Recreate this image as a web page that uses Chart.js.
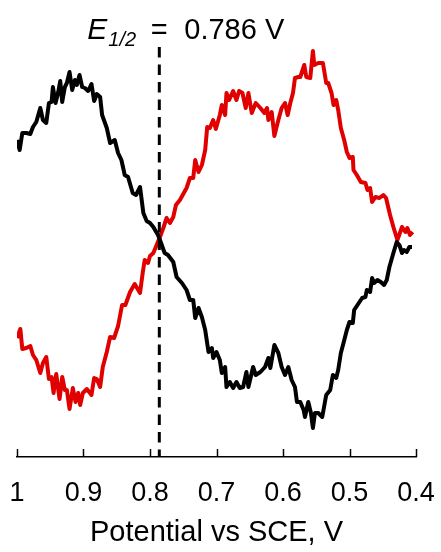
<!DOCTYPE html>
<html>
<head>
<meta charset="utf-8">
<script src="https://cdn.jsdelivr.net/npm/chart.js@4/dist/chart.umd.min.js"></script>
<style>
  body { margin: 0; background: #fff; }
</style>
</head>
<body>
<canvas id="cv" width="441" height="552"></canvas>
<script>
// potential (V vs SCE) and current (arbitrary units)
var blackV = [1.000, 0.996, 0.992, 0.986, 0.980, 0.976, 0.971, 0.965, 0.961, 0.956, 0.952, 0.948, 0.946, 0.942, 0.938, 0.935, 0.932, 0.928, 0.925, 0.921,
  0.917, 0.913, 0.910, 0.906, 0.902, 0.898, 0.893, 0.888, 0.884, 0.880, 0.875, 0.872, 0.865, 0.860, 0.853, 0.848, 0.843, 0.838, 0.833, 0.826,
  0.821, 0.815, 0.810, 0.805, 0.800, 0.795, 0.788, 0.785, 0.778, 0.773, 0.765, 0.760, 0.752, 0.745, 0.740, 0.735, 0.732, 0.727, 0.722, 0.717,
  0.712, 0.707, 0.705, 0.700, 0.695, 0.692, 0.687, 0.685, 0.680, 0.675, 0.670, 0.665, 0.660, 0.655, 0.652, 0.645, 0.641, 0.634, 0.627, 0.622,
  0.619, 0.613, 0.607, 0.602, 0.597, 0.592, 0.587, 0.582, 0.579, 0.574, 0.569, 0.567, 0.562, 0.558, 0.555, 0.552, 0.547, 0.541, 0.535, 0.529,
  0.525, 0.520, 0.517, 0.513, 0.509, 0.504, 0.500, 0.495, 0.493, 0.486, 0.481, 0.476, 0.474, 0.469, 0.466, 0.463, 0.458, 0.453, 0.448, 0.444,
  0.440, 0.434, 0.429, 0.425, 0.421, 0.418, 0.414, 0.410, 0.406];
var blackI = [31.7, 30.7, 32.4, 32.4, 32.3, 33.0, 33.5, 34.9, 33.7, 33.4, 35.4, 35.5, 37.0, 35.4, 36.5, 37.6, 35.5, 37.0, 37.4, 38.5,
  36.7, 37.7, 37.2, 38.2, 37.0, 36.9, 36.6, 37.3, 35.6, 36.3, 36.0, 34.2, 32.9, 31.4, 31.7, 30.4, 29.7, 28.2, 28.0, 26.4,
  26.2, 27.0, 24.4, 23.6, 23.4, 23.0, 22.2, 21.7, 20.4, 20.2, 19.5, 18.0, 17.4, 16.7, 15.7, 15.7, 13.9, 14.9, 14.0, 12.7,
  10.5, 10.9, 9.9, 10.5, 9.7, 8.4, 9.0, 7.0, 7.5, 6.9, 7.5, 6.9, 7.0, 8.5, 7.0, 9.0, 8.2, 8.5, 9.0, 9.9,
  8.9, 11.2, 10.4, 9.0, 8.2, 9.0, 7.7, 7.0, 5.5, 5.5, 4.7, 4.0, 5.5, 4.4, 2.9, 4.4, 4.4, 4.0, 6.2, 6.7,
  8.2, 7.9, 8.7, 10.4, 11.4, 12.7, 13.5, 13.4, 14.7, 15.4, 15.9, 16.0, 16.7, 16.5, 17.9, 17.4, 17.7, 17.5, 17.2, 17.7,
  19.0, 20.4, 21.5, 21.2, 20.4, 20.7, 20.5, 21.0, 21.0];

var redV = [1.000, 0.995, 0.992, 0.986, 0.980, 0.976, 0.971, 0.965, 0.961, 0.956, 0.952, 0.948, 0.945, 0.941, 0.936, 0.932, 0.928, 0.925, 0.921, 0.916,
  0.912, 0.908, 0.905, 0.901, 0.895, 0.888, 0.884, 0.880, 0.875, 0.871, 0.865, 0.860, 0.854, 0.848, 0.842, 0.837, 0.830, 0.823, 0.815, 0.811,
  0.808, 0.803, 0.800, 0.795, 0.790, 0.787, 0.785, 0.780, 0.775, 0.770, 0.765, 0.761, 0.755, 0.750, 0.745, 0.740, 0.735, 0.732, 0.727, 0.722,
  0.717, 0.714, 0.710, 0.705, 0.701, 0.695, 0.692, 0.687, 0.685, 0.681, 0.675, 0.670, 0.666, 0.661, 0.656, 0.652, 0.647, 0.641, 0.634, 0.628,
  0.624, 0.622, 0.617, 0.613, 0.607, 0.602, 0.597, 0.593, 0.589, 0.585, 0.582, 0.577, 0.574, 0.568, 0.565, 0.559, 0.555, 0.553, 0.547, 0.540,
  0.535, 0.532, 0.527, 0.524, 0.520, 0.517, 0.513, 0.508, 0.504, 0.500, 0.495, 0.494, 0.489, 0.483, 0.476, 0.473, 0.469, 0.466, 0.461, 0.455,
  0.449, 0.445, 0.439, 0.434, 0.428, 0.421, 0.416, 0.413, 0.409, 0.405];
var redI = [11.9, 12.8, 10.8, 10.9, 11.1, 10.2, 9.7, 8.4, 9.4, 10.0, 7.8, 8.0, 6.4, 8.3, 5.8, 8.0, 6.7, 6.7, 4.8, 6.9,
  5.5, 6.4, 5.2, 6.4, 6.8, 6.2, 7.9, 7.8, 7.0, 9.0, 10.5, 12.0, 11.9, 13.1, 15.2, 15.2, 16.5, 17.3, 16.4, 18.4,
  19.7, 19.4, 20.1, 20.4, 21.2, 21.7, 22.0, 22.9, 23.9, 23.4, 24.0, 25.2, 25.7, 26.3, 26.9, 27.9, 27.9, 29.7, 28.5, 29.2,
  30.7, 33.0, 32.9, 33.7, 32.8, 34.2, 35.2, 34.2, 36.4, 35.7, 36.6, 35.7, 36.6, 36.4, 34.9, 36.4, 34.4, 35.4, 34.9, 34.4,
  34.9, 33.7, 34.5, 32.1, 33.7, 34.9, 35.4, 34.2, 35.4, 36.4, 37.9, 38.0, 38.0, 39.2, 38.0, 37.9, 40.6, 39.2, 39.4, 39.4,
  37.4, 37.4, 36.4, 35.2, 35.7, 34.7, 32.9, 31.7, 30.5, 29.9, 30.0, 28.7, 28.2, 27.5, 27.4, 26.7, 26.9, 25.5, 26.0, 25.9,
  26.2, 25.9, 24.2, 23.0, 21.7, 23.0, 22.5, 22.9, 22.2, 22.5];

var xTicks = [1, 0.9, 0.8, 0.7, 0.6, 0.5, 0.4];
var eHalf = 0.786;

function pts(vs, is) {
  return vs.map(function (v, i) { return { x: v, y: is[i] }; });
}

// ticks that point up from the axis line, the E1/2 marker and its label
var extras = {
  id: 'extras',
  afterDraw: function (chart) {
    var ctx = chart.ctx;
    var xs = chart.scales.x;
    var base = chart.chartArea.bottom;
    ctx.save();
    ctx.strokeStyle = '#000';
    ctx.lineWidth = 1.5;
    xTicks.forEach(function (t) {
      var px = Math.round(xs.getPixelForValue(t)) + 0.5;
      ctx.beginPath();
      ctx.moveTo(px, base - 8);
      ctx.lineTo(px, base);
      ctx.stroke();
    });

    var ex = xs.getPixelForValue(eHalf);
    ctx.lineWidth = 3;
    ctx.setLineDash([10.5, 7]);
    ctx.beginPath();
    ctx.moveTo(ex, 47);
    ctx.lineTo(ex, base);
    ctx.stroke();
    ctx.setLineDash([]);

    ctx.fillStyle = '#000';
    ctx.textBaseline = 'alphabetic';
    ctx.font = 'italic 30px "Liberation Sans", Arial, sans-serif';
    ctx.textAlign = 'left';
    ctx.fillText('E', ex - 72, 39);
    ctx.font = 'italic 20px "Liberation Sans", Arial, sans-serif';
    ctx.fillText('1/2', ex - 51, 46);
    ctx.font = '29px "Liberation Sans", Arial, sans-serif';
    ctx.textAlign = 'center';
    ctx.fillText('=', ex, 39);
    ctx.textAlign = 'left';
    ctx.fillText('0.786 V', ex + 25, 39);
    ctx.restore();
  }
};

new Chart(document.getElementById('cv'), {
  type: 'line',
  data: {
    datasets: [{
      label: 'black',
      data: pts(blackV, blackI),
      borderColor: '#000000',
      borderWidth: 4,
      borderJoinStyle: 'round',
      pointRadius: 0,
      tension: 0
    }, {
      label: 'red',
      data: pts(redV, redI),
      borderColor: '#e00000',
      borderWidth: 4,
      borderJoinStyle: 'round',
      pointRadius: 0,
      tension: 0
    }]
  },
  options: {
    responsive: false,
    animation: false,
    layout: { padding: { left: 17, right: 25, top: 0, bottom: 0 } },
    plugins: {
      legend: { display: false },
      tooltip: { enabled: false }
    },
    scales: {
      x: {
        type: 'linear',
        reverse: true,
        min: 0.4,
        max: 1,
        afterFit: function (s) {
          s.height = 95;
          s.paddingLeft = 0;
          s.paddingRight = 0;
        },
        afterBuildTicks: function (s) { s.ticks = xTicks.map(function (v) { return { value: v }; }); },
        grid: { display: false, drawTicks: false },
        border: { display: true, color: '#000', width: 1.5 },
        ticks: {
          color: '#000',
          padding: 20,
          maxRotation: 0,
          autoSkip: false,
          font: { family: '"Liberation Sans", Arial, sans-serif', size: 27 },
          callback: function (v) { return v === 1 ? '1' : v.toFixed(1); }
        },
        title: {
          display: true,
          text: 'Potential vs SCE, V',
          color: '#000',
          padding: { top: 0, bottom: 2 },
          font: { family: '"Liberation Sans", Arial, sans-serif', size: 29 }
        }
      },
      y: {
        display: false,
        min: 0,
        max: 45.7
      }
    }
  },
  plugins: [extras]
});
</script>
</body>
</html>
